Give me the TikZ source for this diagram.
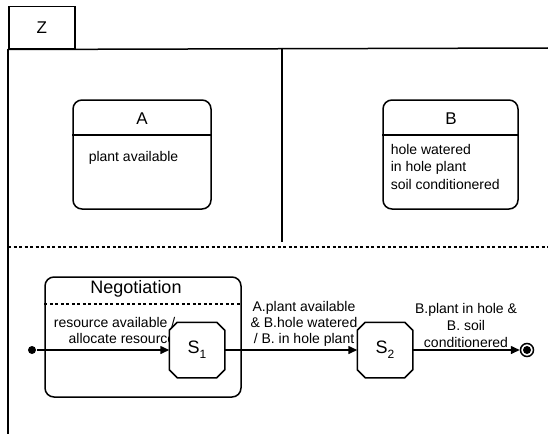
\documentclass[tikz,border=0pt]{standalone}
\usepackage{fontspec}
\setmainfont{Liberation Sans}
\usetikzlibrary{arrows.meta}

\begin{document}
\begin{tikzpicture}[x=1pt,y=-1pt,line width=1.5pt,
  state/.style={draw,rounded corners=9pt,minimum width=138pt,minimum height=109pt},
  cond/.style={minimum width=54pt,minimum height=54pt,inner sep=0pt},
  condname/.style={font=\fontsize{18}{20}\selectfont},
  title/.style={font=\fontsize{17}{20}\selectfont},
  txt/.style={font=\fontsize{14}{17.7}\selectfont,align=left,anchor=base west,inner sep=0pt},
  lbl/.style={font=\fontsize{14}{16}\selectfont,inner sep=0pt},
  trans/.style={-{Triangle[length=9pt,width=8pt]}},
  sep/.style={dash pattern=on 3pt off 2.5pt}]
\useasboundingbox (0,0) rectangle (548,436);

% the frame Z and its three regions
\node[draw,minimum width=66pt,minimum height=42pt,anchor=north west,title] (Z) at (8,6) {Z};
\draw (Z.south west) -- (548,48);
\draw (Z.south west) -- (8,434);
\draw (282,48) -- (282,242);
\draw[sep] (8,247) -- (548,247);

% state A
\node[state] (A) at (142,154.5) {};
\draw (A.west |- 0,135) -- (A.east |- 0,135);
\node[title] (Atitle) at (142,119) {A};
\node[txt] (Atext) at (88,161) {plant available};

% state B
\node[state,minimum width=135pt] (B) at (450.5,154.5) {};
\draw (B.west |- 0,135) -- (B.east |- 0,135);
\node[title] (Btitle) at (451,119) {B};
\node[txt] (Btext) at (390,189.5) {hole watered\\in hole plant\\soil conditionered};

% negotiation
\node[draw,rounded corners=9pt,minimum width=196pt,minimum height=120pt] (neg) at (143,337) {};
\draw[sep] (neg.west |- 0,304) -- (neg.east |- 0,304);
\node[font=\fontsize{18}{20}\selectfont] (negtitle) at (136,289) {Negotiation};

% transition labels
\node[lbl,anchor=east,align=right] (res) at (176,330.5) {resource available /\\allocate resource};
\node[lbl,align=center] (plant) at (304,324) {A.plant available\\\& B.hole watered\\/ B. in hole plant};
\node[lbl,align=center,font=\fontsize{14}{17}\selectfont] (soil) at (466,325) {B.plant in hole \&\\B. soil\\conditionered};

% states and pseudo states
\node[cond] (S1) at (197,350) {};
\node[cond] (S2) at (385,350) {};
\foreach \s in {S1,S2}
  \draw[fill=white] ([xshift=8pt]\s.north west) -- ([xshift=-8pt]\s.north east)
    -- ([yshift=-8pt]\s.north east) -- ([yshift=8pt]\s.south east)
    -- ([xshift=-8pt]\s.south east) -- ([xshift=8pt]\s.south west)
    -- ([yshift=8pt]\s.south west) -- ([yshift=-8pt]\s.north west) -- cycle;
\node[condname] (S1name) at (S1) {S\raisebox{-5pt}{\fontsize{12}{12}\selectfont 1}};
\node[condname] (S2name) at (S2) {S\raisebox{-5pt}{\fontsize{12}{12}\selectfont 2}};
\node[circle,fill,inner sep=0pt,minimum size=8pt] (init) at (32,350) {};
\node[circle,draw,inner sep=0pt,minimum size=13pt] (final) at (527,350) {};
\fill (final.center) circle (4pt);

\draw[trans] (init) -- (S1);
\draw[trans] (S1) -- (S2);
\draw[trans] (S2) -- (final);

\end{tikzpicture}
\end{document}
